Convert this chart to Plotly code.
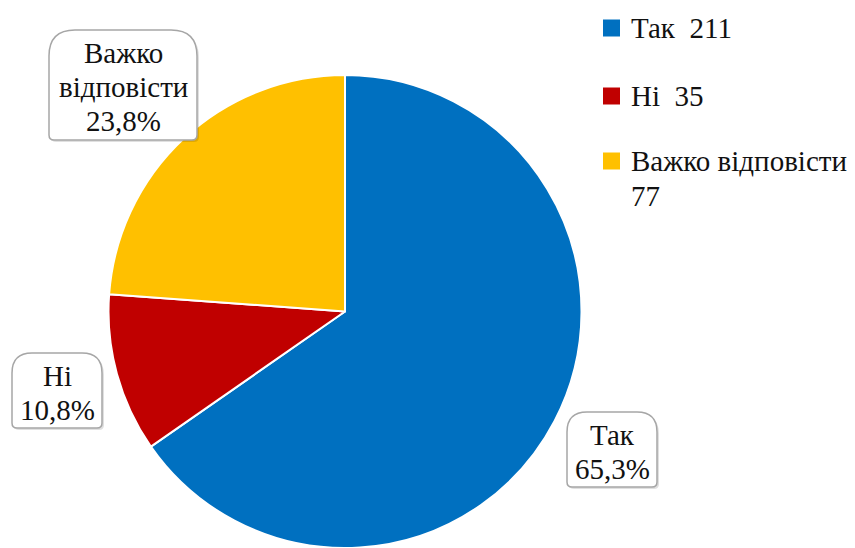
import plotly.graph_objects as go

# Survey answers
categories = ["Так", "Ні", "Важко відповісти"]
values = [211, 35, 77]
colors = ["#0070C0", "#C00000", "#FFC000"]
label_lines = [["Так"], ["Ні"], ["Важко", "відповісти"]]
legend_lines = [["Так\u00a0\u00a0211"], ["Ні\u00a0\u00a035"], ["Важко відповісти", "77"]]

W, H = 855, 548
FONT = "Liberation Serif"
FS = 29

total = sum(values)
pcts = [f"{v / total * 100:.1f}".replace(".", ",") + "%" for v in values]

fig = go.Figure()

# pie: centre ~ (345, 312) px, radius ~237 px
cx, cy, r = 345, 312, 237
fig.add_trace(go.Pie(
    labels=categories,
    values=values,
    marker=dict(colors=colors, line=dict(color="white", width=2)),
    sort=False,
    direction="clockwise",
    rotation=0,
    textinfo="none",
    hoverinfo="label+value+percent",
    showlegend=False,
    domain=dict(x=[(cx - r) / W, (cx + r) / W], y=[0, (H - cy + r) / H]),
))


def box_path(x0, y0, x1, y1, rt, rb):
    return (f"M {x0},{y0 + rt} Q {x0},{y0} {x0 + rt},{y0} "
            f"L {x1 - rt},{y0} Q {x1},{y0} {x1},{y0 + rt} "
            f"L {x1},{y1 - rb} Q {x1},{y1} {x1 - rb},{y1} "
            f"L {x0 + rb},{y1} Q {x0},{y1} {x0},{y1 - rb} Z")


# callout boxes: (x0, y0, x1, y1, top radius), one per category
boxes = [
    (567, 412, 657, 487, 20),
    (12, 353, 102, 428, 20),
    (49, 30, 197, 140, 26),
]
line_gap = 34

for i, (x0, y0, x1, y1, rt) in enumerate(boxes):
    fig.add_shape(type="path", xref="x", yref="y",
                  path=box_path(x0 + 2, y0 + 2, x1 + 2, y1 + 2, rt, 5),
                  fillcolor="rgba(0,0,0,0.12)", line=dict(width=0), layer="above")
    fig.add_shape(type="path", xref="x", yref="y",
                  path=box_path(x0, y0, x1, y1, rt, 5),
                  fillcolor="white", line=dict(color="#A6A6A6", width=1.5), layer="above")
    lines = label_lines[i] + [pcts[i]]
    xc = (x0 + x1) / 2
    yc = (y0 + y1) / 2 + 2
    n = len(lines)
    for k, t in enumerate(lines):
        fig.add_annotation(
            x=xc, y=yc + (k - (n - 1) / 2) * line_gap, xref="x", yref="y",
            text=t, showarrow=False, xanchor="center", yanchor="middle",
            font=dict(family=FONT, size=FS, color="#111111"),
        )

# legend drawn as squares + text
leg_y = [28, 96, 161]
sq = 17
for i, yc in enumerate(leg_y):
    fig.add_shape(type="rect", xref="x", yref="y",
                  x0=603, x1=603 + sq, y0=yc - sq / 2, y1=yc + sq / 2,
                  fillcolor=colors[i], line=dict(width=0), layer="above")
    for k, t in enumerate(legend_lines[i]):
        fig.add_annotation(
            x=629, y=yc + k * 35, xref="x", yref="y",
            text=t, showarrow=False, xanchor="left", yanchor="middle",
            font=dict(family=FONT, size=FS, color="#111111"),
        )

fig.update_layout(
    width=W, height=H,
    margin=dict(l=0, r=0, t=0, b=0),
    paper_bgcolor="white", plot_bgcolor="white",
    font=dict(family=FONT, size=FS, color="#111111"),
    # pixel-space helper axes for callout boxes and legend
    xaxis=dict(range=[0, W], visible=False, domain=[0, 1], fixedrange=True),
    yaxis=dict(range=[H, 0], visible=False, domain=[0, 1], fixedrange=True),
)

fig.write_html("out.html")
